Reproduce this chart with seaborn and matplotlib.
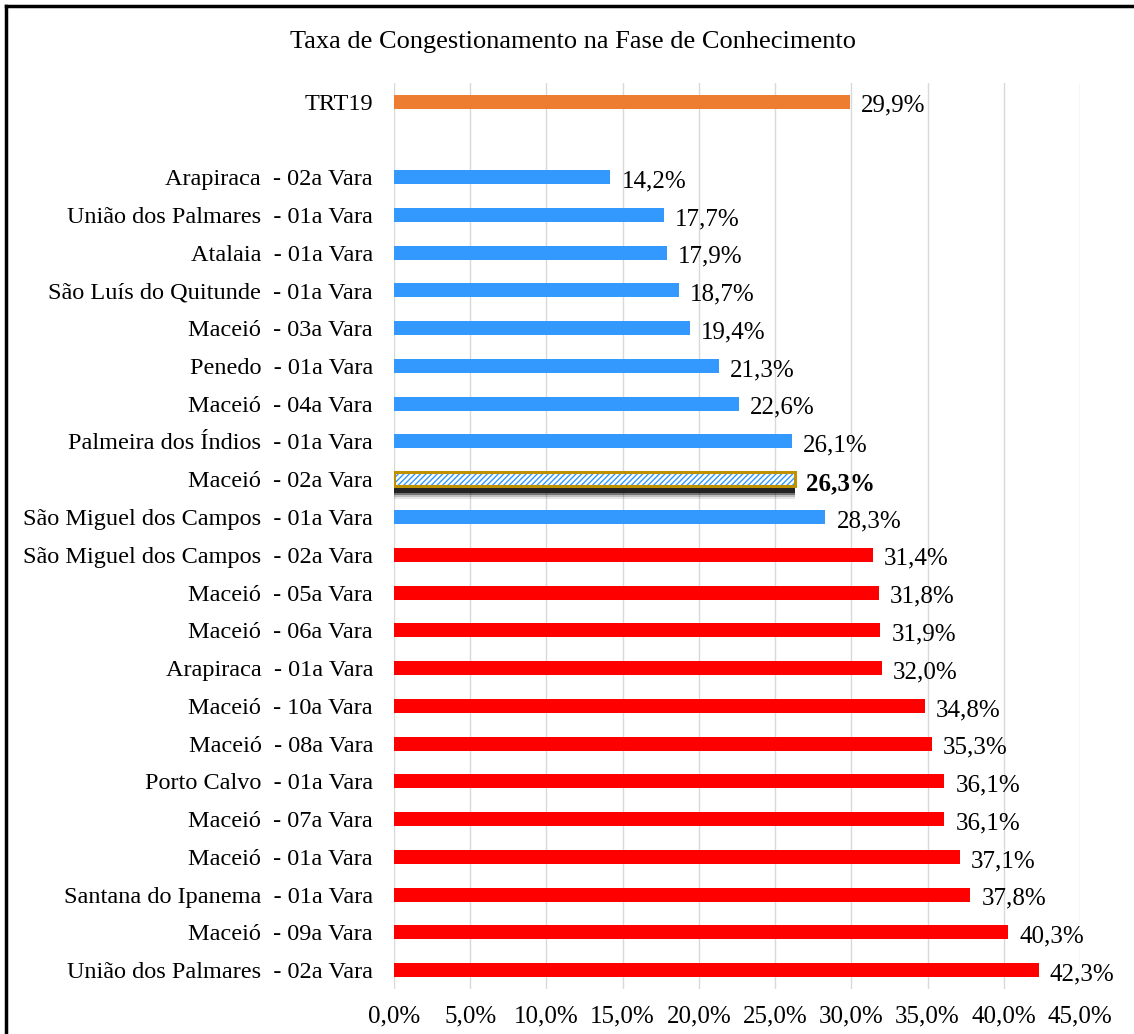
import numpy as np
import pandas as pd
import seaborn as sns
import matplotlib.pyplot as plt
from matplotlib.lines import Line2D
from matplotlib.ticker import FuncFormatter

# Data (top to bottom as shown in the chart, "" is the blank spacer row)
labels = [
    "TRT19", "",
    "Arapiraca  - 02a Vara",
    "União dos Palmares  - 01a Vara",
    "Atalaia  - 01a Vara",
    "São Luís do Quitunde  - 01a Vara",
    "Maceió  - 03a Vara",
    "Penedo  - 01a Vara",
    "Maceió  - 04a Vara",
    "Palmeira dos Índios  - 01a Vara",
    "Maceió  - 02a Vara",
    "São Miguel dos Campos  - 01a Vara",
    "São Miguel dos Campos  - 02a Vara",
    "Maceió  - 05a Vara",
    "Maceió  - 06a Vara",
    "Arapiraca  - 01a Vara",
    "Maceió  - 10a Vara",
    "Maceió  - 08a Vara",
    "Porto Calvo  - 01a Vara",
    "Maceió  - 07a Vara",
    "Maceió  - 01a Vara",
    "Santana do Ipanema  - 01a Vara",
    "Maceió  - 09a Vara",
    "União dos Palmares  - 02a Vara",
]
values = [29.9, np.nan, 14.2, 17.7, 17.9, 18.7, 19.4, 21.3, 22.6, 26.1, 26.3, 28.3,
          31.4, 31.8, 31.9, 32.0, 34.8, 35.3, 36.1, 36.1, 37.1, 37.8, 40.3, 42.3]
groups = ["trt", "none"] + ["low"] * 10 + ["high"] * 12
highlight = "Maceió  - 02a Vara"

group_colors = {"trt": "#ED7D31", "none": "#FFFFFF", "low": "#3399FF", "high": "#FF0000"}

df = pd.DataFrame({"label": labels, "value": values, "group": groups})
df["row"] = [f"r{i}" for i in range(len(df))]

plt.rcParams["font.family"] = ["Liberation Serif", "DejaVu Serif"]

fig = plt.figure(figsize=(11.34, 10.34), dpi=100)
ax = fig.add_axes([0.3474, 0.0435, 0.605, 0.8765])

bar_w = 0.37
sns.barplot(data=df, x="value", y="row", hue="group", palette=group_colors,
            order=df["row"], dodge=False, width=bar_w, legend=False,
            saturation=1, ax=ax)

# highlighted bar: hatched, gold border, soft drop shadow underneath
hi_idx = labels.index(highlight)
for p in ax.patches:
    yc = p.get_y() + p.get_height() / 2
    if abs(yc - hi_idx) < 0.01 and p.get_width() > 0:
        p.set_facecolor("white")
        p.set_edgecolor("#3399FF")
        p.set_hatch("//////")
        p.set_linewidth(0)
        p.set_zorder(4)
        w = p.get_width()
        for off, a in [(0.33, 0.1), (0.28, 0.2), (0.23, 0.45), (0.18, 0.9)]:
            ax.barh(hi_idx + off, w, height=bar_w, color="#1a1a1a",
                    alpha=a, linewidth=0, zorder=3)
        ax.barh(hi_idx, w, height=bar_w, facecolor="none",
                edgecolor="#BF9000", linewidth=2.2, zorder=5)

ax.set_xlim(0, 45)
ax.set_ylim(len(labels) - 0.5, -0.5)
ax.set_xticks(np.arange(0, 46, 5))
ax.xaxis.set_major_formatter(FuncFormatter(lambda v, _: f"{v:.1f}%".replace(".", ",")))
ax.set_yticks(range(len(labels)))
ax.set_yticklabels(labels)
ax.set_xlabel("")
ax.set_ylabel("")
ax.tick_params(axis="both", length=0)
ax.tick_params(axis="y", pad=15, labelsize=17.5)
ax.tick_params(axis="x", pad=12, labelsize=18)
ax.grid(axis="x", color="#D9D9D9", linewidth=1)
ax.set_axisbelow(True)
for s in ax.spines.values():
    s.set_visible(False)

for i, v in enumerate(values):
    if np.isnan(v):
        continue
    txt = f"{v:.1f}%".replace(".", ",")
    ax.annotate(txt, (v, i), xytext=(8, -3), textcoords="offset points",
                va="center", ha="left", fontsize=18,
                fontweight="bold" if labels[i] == highlight else "normal")

fig.text(0.505, 0.959, "Taxa de Congestionamento na Fase de Conhecimento",
         ha="center", va="center", fontsize=19)

# outer frame (left and top edges)
fig.add_artist(Line2D([0.0055, 0.0055], [0, 0.994], color="black", linewidth=2.5,
                      transform=fig.transFigure))
fig.add_artist(Line2D([0.0055, 1], [0.994, 0.994], color="black", linewidth=2.5,
                      transform=fig.transFigure))

fig.savefig("out.png", dpi=100, facecolor="white")
